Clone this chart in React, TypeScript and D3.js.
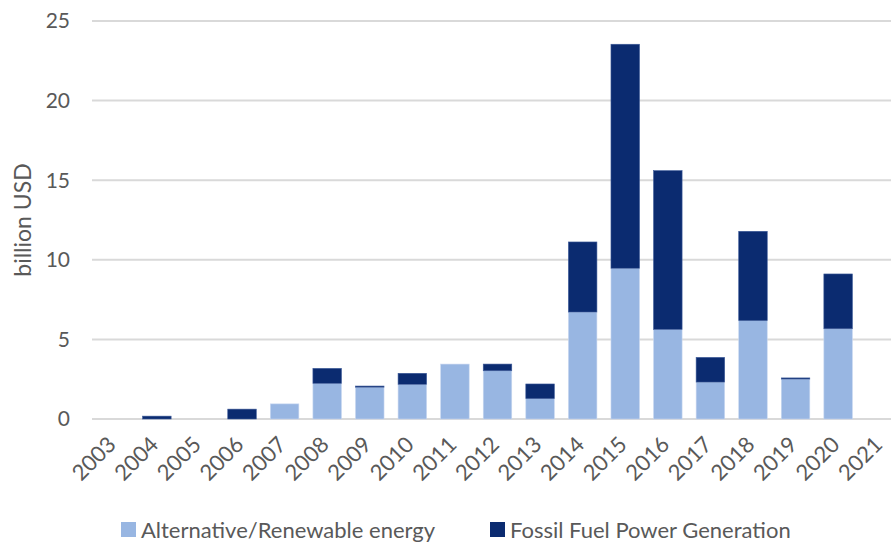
import React, { useEffect, useRef } from 'react';
import * as d3 from 'd3';

const years = ['2003', '2004', '2005', '2006', '2007', '2008', '2009', '2010', '2011', '2012',
  '2013', '2014', '2015', '2016', '2017', '2018', '2019', '2020', '2021'];
const renewable = [0, 0, 0, 0, 0.95, 2.24, 2.0, 2.18, 3.45, 3.03, 1.28, 6.72, 9.47, 5.63, 2.32, 6.18, 2.51, 5.67, 0];
const fossil = [0, 0.18, 0, 0.62, 0, 0.94, 0.07, 0.69, 0, 0.42, 0.92, 4.4, 14.07, 9.97, 1.55, 5.61, 0.07, 3.44, 0];
const yTicks = [0, 5, 10, 15, 20, 25];
const seriesNames = ['Alternative/Renewable energy', 'Fossil Fuel Power Generation'];
const seriesColors = ['#98B6E2', '#0B2B70'];

const W = 891;
const H = 542;
const FONT = 'Lato, "Open Sans", sans-serif';

export default function App() {
  const svgRef = useRef<SVGSVGElement>(null);

  useEffect(() => {
    if (!svgRef.current) return;
    document.body.style.margin = '0';

    const svg = d3.select(svgRef.current);
    svg.selectAll('*').remove();

    const x = d3.scaleBand().domain(years).range([93, 902]).paddingInner(0.33).paddingOuter(0.165);
    const y = d3.scaleLinear().domain([0, 25]).range([419, 21]);

    // Gridlines
    svg.append('g')
      .selectAll('line')
      .data(yTicks)
      .enter()
      .append('line')
      .attr('x1', 92)
      .attr('x2', W)
      .attr('y1', d => y(d))
      .attr('y2', d => y(d))
      .attr('stroke', '#D9D9D9')
      .attr('stroke-width', 2);

    // Y tick labels
    svg.append('g')
      .selectAll('text')
      .data(yTicks)
      .enter()
      .append('text')
      .attr('x', 70)
      .attr('y', d => y(d))
      .attr('dy', '0.35em')
      .attr('text-anchor', 'end')
      .attr('fill', '#595959')
      .style('font-family', FONT)
      .style('font-size', '21px')
      .text(d => d);

    // Y axis title
    svg.append('text')
      .attr('transform', 'translate(23,220) rotate(-90)')
      .attr('text-anchor', 'middle')
      .attr('dy', '0.35em')
      .attr('fill', '#595959')
      .style('font-family', FONT)
      .style('font-size', '23px')
      .text('billion USD');

    // Stacked bars
    const rows = years.map((yr, i) => ({ year: yr, renewable: renewable[i], fossil: fossil[i] }));
    const stack = d3.stack<any>().keys(['renewable', 'fossil'])(rows);

    stack.forEach((layer, li) => {
      svg.append('g')
        .selectAll('rect')
        .data(layer.filter(d => d[1] - d[0] > 0))
        .enter()
        .append('rect')
        .attr('x', d => x(d.data.year)!)
        .attr('width', x.bandwidth())
        .attr('y', d => y(d[1]))
        .attr('height', d => y(d[0]) - y(d[1]))
        .attr('fill', seriesColors[li])
        .attr('stroke', li === 0 ? '#C9D8F0' : '#3D5A99')
        .attr('stroke-width', 0.6);
    });

    // X tick labels
    svg.append('g')
      .selectAll('text')
      .data(years)
      .enter()
      .append('text')
      .attr('transform', d => `translate(${x(d)! + x.bandwidth() / 2 + 3},${446}) rotate(-45)`)
      .attr('text-anchor', 'end')
      .attr('fill', '#595959')
      .style('font-family', FONT)
      .style('font-size', '22px')
      .text(d => d);

    // Legend
    const legendX = [121, 490];
    const lg = svg.append('g');
    seriesNames.forEach((name, i) => {
      lg.append('rect')
        .attr('x', legendX[i])
        .attr('y', 522)
        .attr('width', 15)
        .attr('height', 15)
        .attr('fill', seriesColors[i]);
      lg.append('text')
        .attr('x', legendX[i] + 20)
        .attr('y', 530)
        .attr('dy', '0.35em')
        .attr('fill', '#595959')
        .style('font-family', FONT)
        .style('font-size', '22px')
        .text(name);
    });
  }, []);

  return (
    <svg ref={svgRef} width={W} height={H} style={{ display: 'block', background: '#fff' }} />
  );
}
